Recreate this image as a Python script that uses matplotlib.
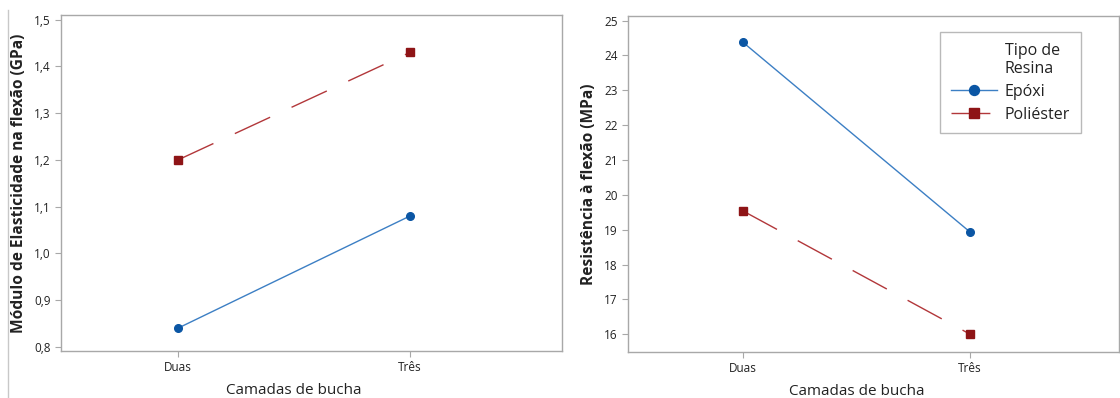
import numpy as np
import matplotlib
matplotlib.use("Agg")
from matplotlib import pyplot as plt
from matplotlib.lines import Line2D

plt.rcParams['font.family'] = ['Open Sans', 'DejaVu Sans']

categories = ["Duas", "Três"]
series_names = ["Epóxi", "Poliéster"]
modulo_epoxi = [0.84, 1.08]
modulo_poliester = [1.20, 1.43]
resist_epoxi = [24.38, 18.93]
resist_poliester = [19.54, 16.00]
modulo_ticks = [0.8, 0.9, 1.0, 1.1, 1.2, 1.3, 1.4, 1.5]
resist_ticks = [16, 17, 18, 19, 20, 21, 22, 23, 24, 25]

blue_line, blue_mark = "#3C7FC4", "#0B56A4"
red_line, red_mark = "#B2373A", "#8E1416"
spine_col = "#A8A8A8"

fig = plt.figure()
fig.set_dpi(100)
fig.set_size_inches(11.2, 3.98)

ax1 = fig.add_axes([61/1120, 47/398, 501/1120, 336/398])
ax2 = fig.add_axes([628/1120, 46/398, 491/1120, 336/398])

x = np.arange(len(categories))


def draw(ax, epoxi, poli, ticks, ylim, ylabel, fmt):
    ax.plot(x, epoxi, color=blue_line, lw=1.0, marker='o', ms=5.5,
            mfc=blue_mark, mec=blue_mark, label=series_names[0])
    ax.plot(x, poli, color=red_line, lw=1.0, marker='s', ms=5.5,
            mfc=red_mark, mec=red_mark, dashes=(28, 17), label=series_names[1])
    ax.set_xlim(-0.505, 1.655)
    ax.set_ylim(*ylim)
    ax.set_xticks(x)
    ax.set_xticklabels(categories, fontsize=8.5)
    ax.set_yticks(ticks)
    ax.set_yticklabels([fmt(t) for t in ticks], fontsize=8.5)
    for s in ax.spines.values():
        s.set_color(spine_col)
        s.set_linewidth(1.0)
    ax.tick_params(colors=spine_col, labelcolor="#222222", length=4, width=0.8)
    ax.set_xlabel("Camadas de bucha", fontsize=11, color="#222222", labelpad=6)
    ax.xaxis.label.set_x((0.5 + 0.505) / (1.655 + 0.505))
    ax.set_ylabel(ylabel, fontsize=11.2, fontweight='bold', color="#222222", labelpad=5)


draw(ax1, modulo_epoxi, modulo_poliester, modulo_ticks, (0.791, 1.510),
     "Módulo de Elasticidade na flexão (GPa)", lambda t: f"{t:.1f}".replace(".", ","))
draw(ax2, resist_epoxi, resist_poliester, resist_ticks, (15.49, 25.13),
     "Resistência à flexão (MPa)", lambda t: f"{t:d}")

h, l = ax2.get_legend_handles_labels()
title_handle = Line2D([], [], color='none')
leg = ax2.legend([title_handle] + h, ["Tipo de\nResina"] + l, loc='upper left',
                 bbox_to_anchor=(0.636, 0.951), fontsize=11.5, frameon=True,
                 fancybox=False, handlelength=2.9, handletextpad=0.5,
                 borderpad=0.65, labelspacing=0.42, markerscale=1.3,
                 borderaxespad=0)
leg.get_frame().set_edgecolor(spine_col)
leg.get_frame().set_linewidth(1.0)
for t in leg.get_texts():
    t.set_color("#222222")

fig.add_artist(Line2D([8/1120, 8/1120], [0, 388/398], color="#C8C8C8", lw=1.0))

fig.savefig("out.png", dpi=100)
